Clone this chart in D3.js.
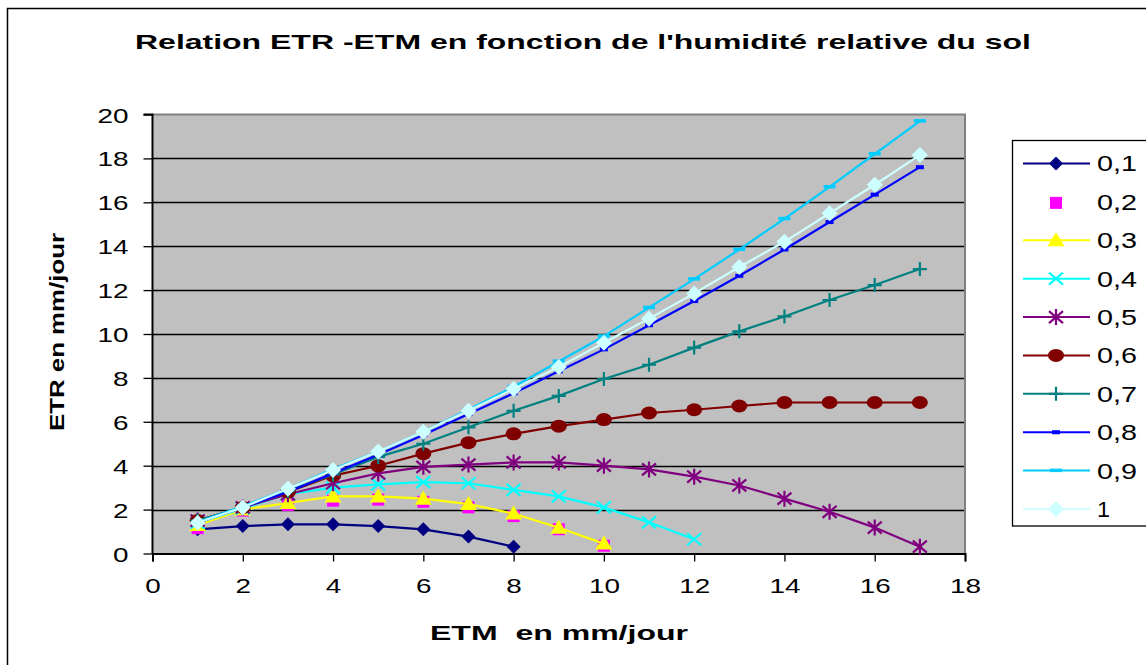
<!DOCTYPE html>
<html>
<head>
<meta charset="utf-8">
<script src="https://cdn.jsdelivr.net/npm/d3@7"></script>
<style>
  html, body { margin: 0; padding: 0; background: #fff; }
  svg { display: block; font-family: "Liberation Sans", Arial, sans-serif; }
</style>
</head>
<body>
<svg id="chart" width="1146" height="665"></svg>
<script>
// ETM (mm/jour) values on the horizontal axis
const etm = [1, 2, 3, 4, 5, 6, 7, 8, 9, 10, 11, 12, 13, 14, 15, 16, 17];

// ETR (mm/jour) for each relative soil humidity
const h01 = [1.1, 1.25, 1.33, 1.33, 1.25, 1.1, 0.77, 0.31];
const h02 = [1.2, 2.0, 2.25, 2.45, 2.5, 2.4, 2.15, 1.75, 1.15, 0.4];
const h03 = [1.3, 2.0, 2.3, 2.6, 2.6, 2.5, 2.25, 1.82, 1.17, 0.45];
const h04 = [1.4, 2.05, 2.7, 3.0, 3.15, 3.25, 3.2, 2.9, 2.6, 2.1, 1.42, 0.65];
const h05 = [1.5, 2.1, 2.7, 3.2, 3.65, 3.95, 4.05, 4.15, 4.15, 4.0, 3.83, 3.5, 3.1, 2.5, 1.9, 1.18, 0.31];
const h06 = [1.5, 2.1, 2.8, 3.55, 4.0, 4.55, 5.05, 5.45, 5.8, 6.1, 6.4, 6.55, 6.72, 6.88, 6.88, 6.88, 6.88];
const h07 = [1.5, 2.1, 2.85, 3.6, 4.4, 5.0, 5.75, 6.5, 7.18, 7.95, 8.6, 9.38, 10.12, 10.8, 11.55, 12.23, 12.96];
const h08 = [1.4, 2.1, 2.8, 3.65, 4.5, 5.4, 6.35, 7.3, 8.3, 9.3, 10.4, 11.5, 12.65, 13.85, 15.1, 16.35, 17.6];
const h09 = [1.45, 2.15, 2.95, 3.85, 4.65, 5.55, 6.55, 7.6, 8.75, 9.9, 11.2, 12.5, 13.85, 15.25, 16.7, 18.2, 19.7];
const h10 = [1.4, 2.1, 2.95, 3.8, 4.65, 5.55, 6.5, 7.5, 8.5, 9.6, 10.7, 11.85, 13.05, 14.2, 15.5, 16.8, 18.15];

const seriesNames = ["0,1", "0,2", "0,3", "0,4", "0,5", "0,6", "0,7", "0,8", "0,9", "1"];
const seriesValues = [h01, h02, h03, h04, h05, h06, h07, h08, h09, h10];

const xTicks = [0, 2, 4, 6, 8, 10, 12, 14, 16, 18];
const yTicks = [0, 2, 4, 6, 8, 10, 12, 14, 16, 18, 20];

const titleText = "Relation ETR -ETM en fonction de l'humidité relative du sol";
const xTitle = "ETM  en mm/jour";
const yTitle = "ETR en mm/jour";

// Per-series look: line colour, whether a line is drawn, and marker shape
const styles = [
  { color: "#000080", line: true,  marker: "diamond" },
  { color: "#FF00FF", line: false, marker: "square" },
  { color: "#FFFF00", line: true,  marker: "triangle" },
  { color: "#00FFFF", line: true,  marker: "x" },
  { color: "#800080", line: true,  marker: "star" },
  { color: "#800000", line: true,  marker: "circle" },
  { color: "#008080", line: true,  marker: "plus" },
  { color: "#0000FF", line: true,  marker: "bar" },
  { color: "#00CCFF", line: true,  marker: "widebar" },
  { color: "#CCFFFF", line: true,  marker: "bigdiamond" }
];

const svg = d3.select("#chart");

// Outer chart frame (extends past the window on the right and bottom)
svg.append("rect")
  .attr("x", 7.5).attr("y", 8.5)
  .attr("width", 1200).attr("height", 700)
  .attr("fill", "#fff").attr("stroke", "#000").attr("stroke-width", 1.5);

const plot = { left: 152.5, right: 965, top: 114.5, bottom: 553.5 };

const x = d3.scaleLinear().domain([0, 18]).range([plot.left, plot.right]);
const y = d3.scaleLinear().domain([0, 20]).range([plot.bottom, plot.top]);

// Plot area background
svg.append("rect")
  .attr("x", plot.left).attr("y", plot.top)
  .attr("width", plot.right - plot.left).attr("height", plot.bottom - plot.top)
  .attr("fill", "#C0C0C0");

// Horizontal gridlines
svg.append("g")
  .selectAll("line")
  .data(yTicks.filter(d => d > 0 && d < 20))
  .join("line")
  .attr("x1", plot.left).attr("x2", plot.right)
  .attr("y1", d => Math.round(y(d)) + 0.5).attr("y2", d => Math.round(y(d)) + 0.5)
  .attr("stroke", "#000").attr("stroke-width", 1.3);

// Plot border (top and right in grey)
svg.append("path")
  .attr("d", `M${plot.left},${plot.top}H${plot.right}V${plot.bottom}`)
  .attr("fill", "none").attr("stroke", "#808080").attr("stroke-width", 2);

// Axes
const yAxis = d3.axisLeft(y).tickValues(yTicks).tickSize(9).tickPadding(15).tickFormat(d3.format("d"));
const xAxis = d3.axisBottom(x).tickValues(xTicks).tickSize(8).tickPadding(17).tickFormat(d3.format("d"));

const gy = svg.append("g").attr("transform", `translate(${plot.left},0)`).call(yAxis);
const gx = svg.append("g").attr("transform", `translate(0,${plot.bottom})`).call(xAxis);

[gx, gy].forEach(g => {
  g.select(".domain").attr("stroke", "#000").attr("stroke-width", 2);
  g.selectAll(".tick line").attr("stroke", "#000").attr("stroke-width", 1.3);
  g.selectAll(".tick text")
    .attr("fill", "#000")
    .attr("textLength", function () { return this.textContent.length * 15.5; })
    .attr("lengthAdjust", "spacingAndGlyphs")
    .style("font-size", "21px")
    .style("font-family", "'Liberation Sans', Arial, sans-serif");
});
gy.select(".domain").attr("d", `M-9,${y(20)}H0V${y(0)}`);
gy.selectAll(".tick text").attr("dy", "0.36em");

// Marker shapes
const markerPaths = {
  diamond:   { d: "M0,-7L7,0L0,7L-7,0Z", fill: true },
  square:    { d: "M-6,-5H6V7H-6Z", fill: true },
  triangle:  { d: "M0,-8L8.5,6H-8.5Z", fill: true },
  x:         { d: "M-7,-6L7,6M-7,6L7,-6", fill: false },
  star:      { d: "M-7,-6L7,6M-7,6L7,-6M0,-8V8", fill: false },
  circle:    { d: "M-8,0A8,6.5 0 1,0 8,0A8,6.5 0 1,0 -8,0Z", fill: true },
  plus:      { d: "M-7,0H7M0,-7V7", fill: false },
  bar:       { d: "M-4,-2H4V2H-4Z", fill: true },
  widebar:   { d: "M-6,-2H6V1.5H-6Z", fill: true },
  bigdiamond:{ d: "M0,-8L8,0L0,8L-8,0Z", fill: true }
};

function drawMarker(g, shape, color) {
  const m = markerPaths[shape];
  return g.append("path")
    .attr("d", m.d)
    .attr("fill", m.fill ? color : "none")
    .attr("stroke", m.fill ? "none" : color)
    .attr("stroke-width", 2.2);
}

const line = d3.line().x(d => x(d[0])).y(d => y(d[1]));

const seriesG = svg.append("g");
seriesValues.forEach((vals, i) => {
  const st = styles[i];
  const pts = vals.map((v, j) => [etm[j], v]);
  const g = seriesG.append("g");
  if (st.line) {
    g.append("path")
      .attr("d", line(pts))
      .attr("fill", "none")
      .attr("stroke", st.color)
      .attr("stroke-width", 2.2)
      .attr("stroke-linejoin", "round");
  }
  pts.forEach(p => {
    const mg = g.append("g").attr("transform", `translate(${x(p[0])},${y(p[1])})`);
    drawMarker(mg, st.marker, st.color);
  });
});

// Legend
const legend = svg.append("g");
legend.append("rect")
  .attr("x", 1012.5).attr("y", 140.5)
  .attr("width", 200).attr("height", 385.5)
  .attr("fill", "#fff").attr("stroke", "#000").attr("stroke-width", 1.3);

const legY = d3.scalePoint().domain(seriesNames).range([163.5, 509]);
seriesNames.forEach((name, i) => {
  const st = styles[i];
  const cy = legY(name);
  const g = legend.append("g");
  if (st.line) {
    g.append("line")
      .attr("x1", 1023).attr("x2", 1090)
      .attr("y1", cy).attr("y2", cy)
      .attr("stroke", st.color).attr("stroke-width", 2);
  }
  const mg = g.append("g").attr("transform", `translate(1056,${cy})`);
  drawMarker(mg, st.marker, st.color);
  g.append("text")
    .attr("x", 1097).attr("y", cy)
    .attr("dy", "0.36em")
    .attr("fill", "#000")
    .attr("textLength", name.length > 1 ? 40 : 13)
    .attr("lengthAdjust", "spacingAndGlyphs")
    .style("font-size", "22px")
    .text(name);
});

// Titles
svg.append("text")
  .attr("x", 583).attr("y", 49)
  .attr("text-anchor", "middle")
  .attr("textLength", 896).attr("lengthAdjust", "spacingAndGlyphs")
  .style("font-size", "21px").style("font-weight", "bold")
  .text(titleText);

svg.append("text")
  .attr("x", 559).attr("y", 640)
  .attr("text-anchor", "middle")
  .attr("textLength", 258).attr("lengthAdjust", "spacingAndGlyphs")
  .style("font-size", "21px").style("font-weight", "bold")
  .style("white-space", "pre")
  .text(xTitle);

svg.append("text")
  .attr("transform", "translate(64,332) rotate(-90)")
  .attr("text-anchor", "middle")
  .attr("textLength", 198).attr("lengthAdjust", "spacingAndGlyphs")
  .style("font-size", "21px").style("font-weight", "bold")
  .text(yTitle);
</script>
</body>
</html>
